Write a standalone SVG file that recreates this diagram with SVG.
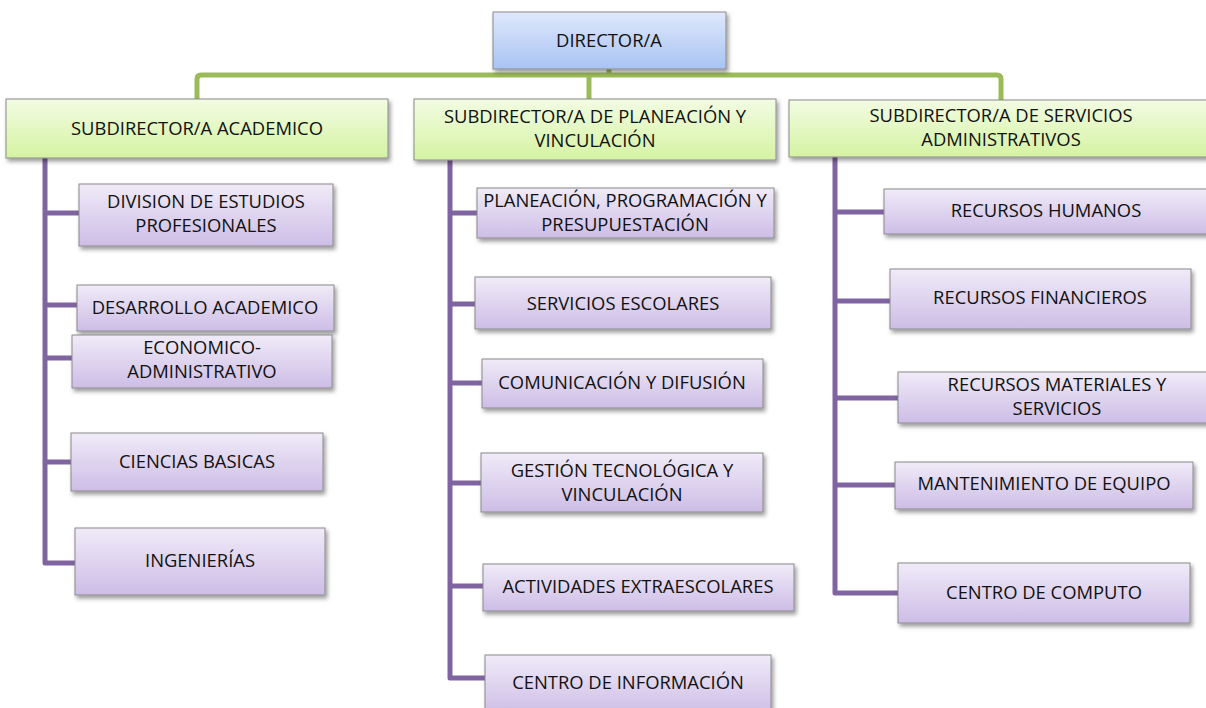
<svg xmlns="http://www.w3.org/2000/svg" width="1206" height="708" viewBox="0 0 1206 708">
<defs>
<linearGradient id="gBlue" x1="0" y1="0" x2="0" y2="1">
<stop offset="0" stop-color="#dfe8fb"/><stop offset="1" stop-color="#a8c3f4"/>
</linearGradient>
<linearGradient id="gGreen" x1="0" y1="0" x2="0" y2="1">
<stop offset="0" stop-color="#f2fce3"/><stop offset="1" stop-color="#d5f3a2"/>
</linearGradient>
<linearGradient id="gPurple" x1="0" y1="0" x2="0" y2="1">
<stop offset="0" stop-color="#f0ebf8"/><stop offset="1" stop-color="#cdbde6"/>
</linearGradient>
<filter id="sh" x="-10%" y="-20%" width="125%" height="160%">
<feDropShadow dx="2" dy="3" stdDeviation="2" flood-color="#000" flood-opacity="0.4"/>
</filter>
</defs>
<style>
.box{stroke:#8a8a8a;stroke-width:1;filter:url(#sh)}
.blue{fill:url(#gBlue)}
.green{fill:url(#gGreen)}
.purple{fill:url(#gPurple)}
text{font-family:"Open Sans","Liberation Sans",sans-serif;font-size:18.4px;fill:#111;text-anchor:middle}
.gl{fill:none;stroke:#9bbb59;stroke-width:5;stroke-linejoin:round}
.pl{fill:none;stroke:#8064a2;stroke-width:5;stroke-linejoin:round}
</style>
<rect width="1206" height="708" fill="#fff"/>
<g id="connectors">
<path class="gl" d="M197,99 V79 Q197,75 201,75 H997 Q1001,75 1001,79 V100"/>
<path class="gl" d="M609,69 V75"/>
<path class="gl" d="M589,75 V99"/>
<path class="pl" d="M45,158 V563 H75"/>
<path class="pl" d="M45,213 H79"/>
<path class="pl" d="M45,305 H77"/>
<path class="pl" d="M45,358 H72"/>
<path class="pl" d="M45,462 H71"/>
<path class="pl" d="M450,160 V678 H485"/>
<path class="pl" d="M450,213 H477"/>
<path class="pl" d="M450,304 H475"/>
<path class="pl" d="M450,383 H482"/>
<path class="pl" d="M450,483 H481"/>
<path class="pl" d="M450,586 H483"/>
<path class="pl" d="M835,157 V593 H898"/>
<path class="pl" d="M835,212 H884"/>
<path class="pl" d="M835,301 H890"/>
<path class="pl" d="M835,398 H898"/>
<path class="pl" d="M835,485 H895"/>
</g>
<g id="n-director"><rect class="box blue" x="493" y="12" width="233" height="57"/><text x="609" y="47">DIRECTOR/A</text></g>
<g id="n-sub-academico"><rect class="box green" x="6" y="99" width="382" height="59"/><text x="197" y="135">SUBDIRECTOR/A ACADEMICO</text></g>
<g id="n-sub-planeacion"><rect class="box green" x="414" y="99" width="362" height="61"/><text x="595" y="123">SUBDIRECTOR/A DE PLANEACIÓN Y</text><text x="595" y="147">VINCULACIÓN</text></g>
<g id="n-sub-servicios"><rect class="box green" x="789" y="100" width="424" height="57"/><text x="1001" y="122">SUBDIRECTOR/A DE SERVICIOS</text><text x="1001" y="146">ADMINISTRATIVOS</text></g>
<g id="n-division"><rect class="box purple" x="79" y="184" width="254" height="62"/><text x="206" y="208">DIVISION DE ESTUDIOS</text><text x="206" y="232">PROFESIONALES</text></g>
<g id="n-desarrollo"><rect class="box purple" x="77" y="285" width="257" height="46"/><text x="205" y="314">DESARROLLO ACADEMICO</text></g>
<g id="n-economico"><rect class="box purple" x="72" y="335" width="260" height="53"/><text x="202" y="354">ECONOMICO-</text><text x="202" y="378">ADMINISTRATIVO</text></g>
<g id="n-ciencias"><rect class="box purple" x="71" y="433" width="252" height="58"/><text x="197" y="468">CIENCIAS BASICAS</text></g>
<g id="n-ingenierias"><rect class="box purple" x="75" y="528" width="250" height="67"/><text x="200" y="567">INGENIERÍAS</text></g>
<g id="n-planeacion"><rect class="box purple" x="477" y="188" width="297" height="50"/><text x="625" y="207">PLANEACIÓN, PROGRAMACIÓN Y</text><text x="625" y="231">PRESUPUESTACIÓN</text></g>
<g id="n-escolares"><rect class="box purple" x="475" y="277" width="296" height="52"/><text x="623" y="310">SERVICIOS ESCOLARES</text></g>
<g id="n-comunicacion"><rect class="box purple" x="482" y="359" width="281" height="49"/><text x="622" y="389">COMUNICACIÓN Y DIFUSIÓN</text></g>
<g id="n-gestion"><rect class="box purple" x="481" y="453" width="282" height="59"/><text x="622" y="477">GESTIÓN TECNOLÓGICA Y</text><text x="622" y="501">VINCULACIÓN</text></g>
<g id="n-actividades"><rect class="box purple" x="483" y="564" width="311" height="47"/><text x="638" y="593">ACTIVIDADES EXTRAESCOLARES</text></g>
<g id="n-centro-info"><rect class="box purple" x="485" y="655" width="286" height="60"/><text x="628" y="689">CENTRO DE INFORMACIÓN</text></g>
<g id="n-humanos"><rect class="box purple" x="884" y="189" width="328" height="45"/><text x="1046" y="217">RECURSOS HUMANOS</text></g>
<g id="n-financieros"><rect class="box purple" x="890" y="269" width="301" height="60"/><text x="1040" y="304">RECURSOS FINANCIEROS</text></g>
<g id="n-materiales"><rect class="box purple" x="898" y="372" width="318" height="51"/><text x="1057" y="391">RECURSOS MATERIALES Y</text><text x="1057" y="415">SERVICIOS</text></g>
<g id="n-mantenimiento"><rect class="box purple" x="895" y="462" width="298" height="47"/><text x="1044" y="490">MANTENIMIENTO DE EQUIPO</text></g>
<g id="n-computo"><rect class="box purple" x="898" y="563" width="292" height="60"/><text x="1044" y="599">CENTRO DE COMPUTO</text></g>
</svg>
